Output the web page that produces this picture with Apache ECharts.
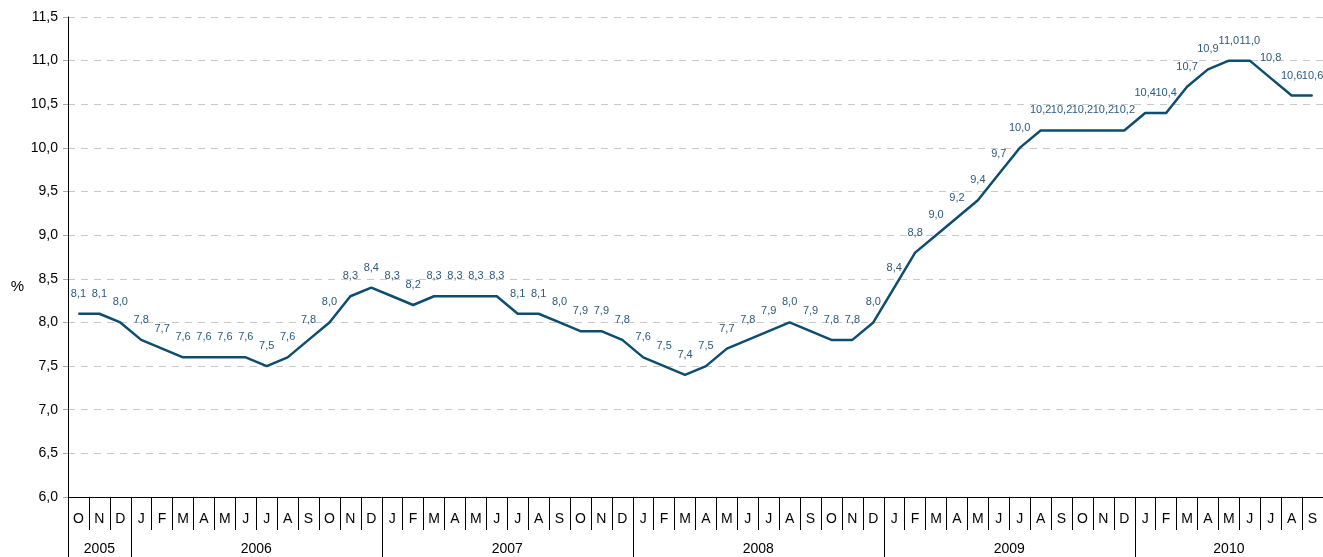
<!DOCTYPE html>
<html>
<head>
<meta charset="utf-8">
<script src="https://cdn.jsdelivr.net/npm/echarts@6/dist/echarts.min.js"></script>
<style>
  html, body { margin: 0; padding: 0; background: #fff; }
  #chart { width: 1323px; height: 557px; }
</style>
</head>
<body>
<div id="chart"></div>
<script>
// month initials, Oct 2005 .. Sep 2010
const months = [
  "O", "N", "D",
  "J", "F", "M", "A", "M", "J", "J", "A", "S", "O", "N", "D",
  "J", "F", "M", "A", "M", "J", "J", "A", "S", "O", "N", "D",
  "J", "F", "M", "A", "M", "J", "J", "A", "S", "O", "N", "D",
  "J", "F", "M", "A", "M", "J", "J", "A", "S", "O", "N", "D",
  "J", "F", "M", "A", "M", "J", "J", "A", "S"
];
const rates = [
  8.1, 8.1, 8.0,
  7.8, 7.7, 7.6, 7.6, 7.6, 7.6, 7.5, 7.6, 7.8, 8.0, 8.3, 8.4,
  8.3, 8.2, 8.3, 8.3, 8.3, 8.3, 8.1, 8.1, 8.0, 7.9, 7.9, 7.8,
  7.6, 7.5, 7.4, 7.5, 7.7, 7.8, 7.9, 8.0, 7.9, 7.8, 7.8, 8.0,
  8.4, 8.8, 9.0, 9.2, 9.4, 9.7, 10.0, 10.2, 10.2, 10.2, 10.2, 10.2,
  10.4, 10.4, 10.7, 10.9, 11.0, 11.0, 10.8, 10.6, 10.6
];
const years = ["2005", "2006", "2007", "2008", "2009", "2010"];
// where each year starts / its middle, counted in months from Oct 2005
const yearStarts = [0, 3, 15, 27, 39, 51, 60];
const yearMids = [1.5, 9, 21, 33, 45, 55.5];

const comma = (v) => v.toFixed(1).replace(".", ",");
const font = "Liberation Sans, Arial, sans-serif";

const chart = echarts.init(document.getElementById("chart"));
chart.setOption({
  animation: false,
  grid: { left: 68, top: 17, width: 1260, height: 480 },
  xAxis: [
    {
      type: "category",
      data: months,
      boundaryGap: true,
      axisLine: { show: true, lineStyle: { color: "#000", width: 1 } },
      axisTick: {
        show: true, interval: 0, length: 33, alignWithLabel: false,
        lineStyle: { color: "#000" }
      },
      axisLabel: {
        interval: 0, margin: 15, color: "#000",
        fontFamily: font, fontSize: 14
      }
    },
    {
      type: "value",
      position: "bottom",
      min: 0,
      max: 60,
      axisLine: { show: false },
      splitLine: { show: false },
      axisTick: {
        show: true, length: 60, customValues: yearStarts,
        lineStyle: { color: "#000" }
      },
      axisLabel: {
        margin: 45, color: "#000", fontFamily: font, fontSize: 14,
        customValues: yearMids,
        formatter: (v) => years[yearMids.indexOf(v)] || ""
      }
    }
  ],
  yAxis: {
    type: "value",
    min: 6,
    max: 11.5,
    interval: 0.5,
    name: "\n\n\n\n%",
    nameLocation: "middle",
    nameRotate: 0,
    nameGap: 44,
    nameTextStyle: {
      color: "#000", fontFamily: font, fontSize: 15, lineHeight: 15
    },
    axisLine: { show: true, lineStyle: { color: "#000" } },
    axisTick: { show: true, length: 5, lineStyle: { color: "#aaa" } },
    axisLabel: {
      color: "#000", fontFamily: font, fontSize: 14, margin: 10,
      formatter: comma
    },
    splitLine: {
      lineStyle: { color: "#c8c8c8", type: [7, 6], width: 1 }
    }
  },
  series: [
    {
      type: "line",
      data: rates,
      xAxisIndex: 0,
      symbol: "circle",
      symbolSize: 1,
      showSymbol: true,
      itemStyle: { color: "#0e4d6e" },
      lineStyle: { color: "#0e4d6e", width: 2.5 },
      label: {
        show: true,
        position: "top",
        distance: 14,
        color: "#2a5a7c",
        fontFamily: font,
        fontSize: 11,
        formatter: (p) => comma(p.value)
      }
    }
  ]
});
</script>
</body>
</html>
